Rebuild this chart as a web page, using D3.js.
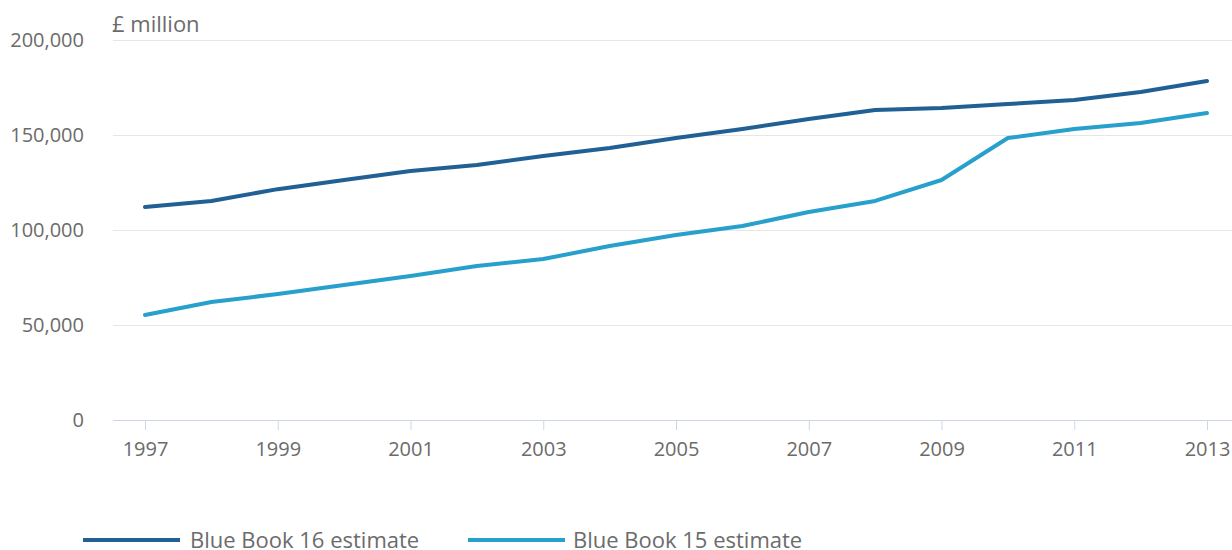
<!DOCTYPE html>
<html><head><meta charset="utf-8">
<script src="https://cdn.jsdelivr.net/npm/d3@7"></script>
<style>
body{margin:0;background:#fff;}
svg{display:block;font-family:"Open Sans",sans-serif;}
</style></head>
<body><svg id="c" width="1232" height="550"></svg>
<script>
const years = [1997,1998,1999,2000,2001,2002,2003,2004,2005,2006,2007,2008,2009,2010,2011,2012,2013];
const bb16 = [112100,115300,121500,126300,131000,134200,138900,143200,148400,153200,158400,163200,164200,166300,168400,172600,178400];
const bb15 = [55300,62100,66300,71000,75800,81000,84700,91600,97400,102100,109500,115300,126300,148400,153200,156300,161600];
const yTicks = [0,50000,100000,150000,200000];
const xTicks = [1997,1999,2001,2003,2005,2007,2009,2011,2013];
const seriesNames = ["Blue Book 16 estimate","Blue Book 15 estimate"];
const colors = ["#206095","#27a0cc"];

(function(){
const svg = d3.select("#c");
const pLeft = 113, pRight = 1232, pTop = 40, pBottom = 420;
const txt = "#6b6b6b";
const x = d3.scaleLinear().domain([1997,2013]).range([145,1207]);
const y = d3.scaleLinear().domain([0,200000]).range([pBottom, pTop]);

svg.append("g").selectAll("line").data(yTicks.filter(d=>d>0)).join("line")
  .attr("x1",pLeft).attr("x2",pRight).attr("y1",d=>y(d)+0.5).attr("y2",d=>y(d)+0.5)
  .attr("stroke","#e6e6e6").attr("stroke-width",1);

svg.append("g").selectAll("text").data(yTicks).join("text")
  .attr("x",84).attr("y",d=>y(d)+7).attr("text-anchor","end")
  .attr("font-size",20).attr("fill",txt).text(d=>d3.format(",")(d));

const xa = svg.append("g").attr("transform",`translate(0,${pBottom})`)
  .call(d3.axisBottom(x).tickValues(xTicks).tickFormat(d3.format("d")).tickSize(10).tickPadding(12));
xa.select(".domain").attr("d",`M${pLeft},0.5H${pRight}`).attr("stroke","#ccd6eb");
xa.selectAll(".tick line").attr("stroke","#ccd6eb");
xa.selectAll(".tick text").attr("font-size",20).attr("fill",txt).attr("font-family","Open Sans");

svg.append("text").attr("x",112).attr("y",32).attr("font-size",22).attr("fill",txt).text("£ million");

const line = d3.line().x((d,i)=>x(years[i])).y(d=>y(d));
[bb16,bb15].forEach((s,k)=>{
  svg.append("path").datum(s).attr("d",line).attr("fill","none")
    .attr("stroke",colors[k]).attr("stroke-width",4).attr("stroke-linecap","round").attr("stroke-linejoin","round");
});

const lg = svg.append("g");
lg.append("line").attr("x1",83).attr("x2",180).attr("y1",540).attr("y2",540).attr("stroke",colors[0]).attr("stroke-width",4);
lg.append("text").attr("x",190).attr("y",548).attr("font-size",22).attr("fill",txt).text(seriesNames[0]);
lg.append("line").attr("x1",468).attr("x2",565).attr("y1",540).attr("y2",540).attr("stroke",colors[1]).attr("stroke-width",4);
lg.append("text").attr("x",573).attr("y",548).attr("font-size",22).attr("fill",txt).text(seriesNames[1]);
})();
</script></body></html>
